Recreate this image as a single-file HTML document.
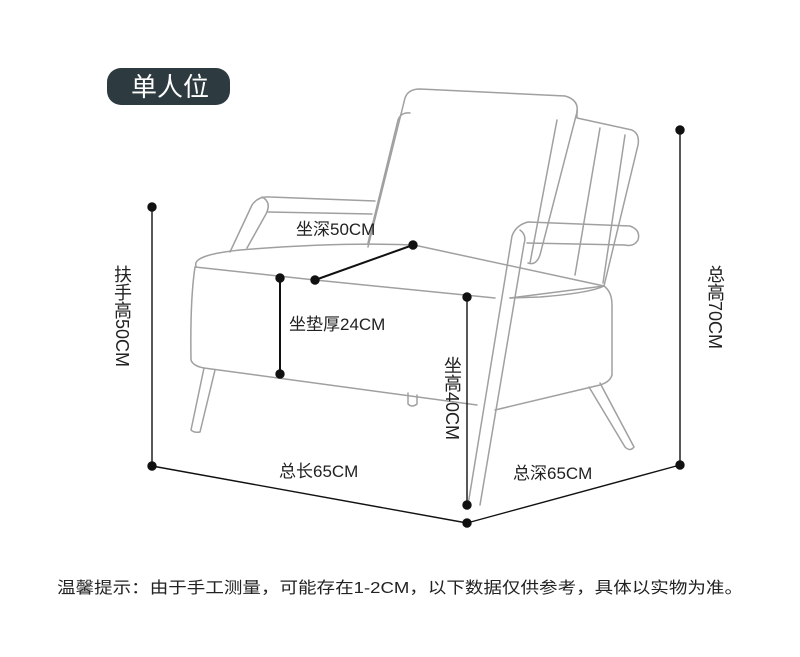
<!DOCTYPE html>
<html><head><meta charset="utf-8"><style>
html,body{margin:0;padding:0;background:#fff;width:800px;height:657px;overflow:hidden;position:relative}
.t{position:absolute;font-family:"Liberation Sans","Noto Sans CJK SC",sans-serif;color:#222;font-size:17px;line-height:1;white-space:nowrap}
.v{writing-mode:vertical-rl;text-orientation:mixed;font-size:18px}
</style></head><body>
<svg width="800" height="657" style="position:absolute;left:0;top:0">
<g fill="none" stroke="#a0a0a0" stroke-width="1.5" stroke-linejoin="round" stroke-linecap="round">
<!-- back frame behind -->
<path d="M368,243 L398,120 Q401,112 410,113"/>
<path d="M577,110 L577,118 L632,130 Q640,134 638,145 L604,286"/>
<path d="M557,120 L530,263"/>
<path d="M600,128 L575,275"/>
<path d="M625,135 L603,283"/>
<!-- back cushion -->
<path d="M368,247 L405,98 Q408,89 420,89 L565,96 Q579,100 577,112 L540,255 Q536,266 528,263"/>
<!-- left arm -->
<path d="M230,252 L252,205 Q258,196 270,197 L375,201"/>
<path d="M262,197 Q272,202 266,214 L247,248"/>
<path d="M268,212 L372,214"/>
<!-- seat top -->
<path d="M196,266 Q192,255 240,250 Q340,242 414,245 L604,286 Q590,293 540,297 L510,298"/>
<path d="M195,267 L315,280 L495,298"/>
<!-- seat front box -->
<path d="M195,267 Q190,300 191,360 Q193,366 204,368 L477,405"/>
<path d="M510,298 L604,286 Q612,292 612,305 L612,375 Q610,382 600,385 L495,410"/>
<path d="M408,393 L408,404 Q412,408 417,404 L417,395"/>
<!-- legs -->
<path d="M204,368 L191,430 Q194,433 200,432 L215,370"/>
<path d="M589,387 L625,447 Q630,452 634,447 L600,383"/>
<!-- right arm -->
<path d="M468,505 L512,236 Q516,225 528,222 L630,226 Q641,230 638,240 Q634,247 625,245 L527,243"/>
<path d="M480,505 L524,244 Q527,235 520,230"/>
</g>
<g stroke="#111" stroke-width="1.4" fill="#111">
<line x1="152" y1="207" x2="152" y2="466"/>
<line x1="152" y1="466" x2="467" y2="523"/>
<line x1="467" y1="523" x2="680" y2="465"/>
<line x1="680" y1="130" x2="680" y2="465"/>
<line x1="315" y1="280" x2="413" y2="245" stroke-width="2"/>
<line x1="280" y1="278" x2="280" y2="374" stroke-width="2"/>
<line x1="467" y1="297" x2="467" y2="505"/>
<circle cx="152" cy="207" r="4"/><circle cx="152" cy="466" r="4"/>
<circle cx="467" cy="523" r="4"/><circle cx="680" cy="130" r="4"/><circle cx="680" cy="465" r="4"/>
<circle cx="315" cy="280" r="4"/><circle cx="413" cy="245" r="4"/>
<circle cx="280" cy="278" r="4"/><circle cx="280" cy="374" r="4"/>
<circle cx="467" cy="297" r="4"/><circle cx="467" cy="505" r="4"/>
</g>
<rect x="107" y="68" width="123" height="37" rx="14" fill="#2d3b41"/>
<text x="170" y="96" text-anchor="middle" font-family="Liberation Sans,Noto Sans CJK SC,sans-serif" font-size="26" fill="#fff">单人位</text>
<text x="400" y="593" text-anchor="middle" font-family="Liberation Sans,Noto Sans CJK SC,sans-serif" font-size="16" fill="#222" textLength="686" lengthAdjust="spacingAndGlyphs">温馨提示：由于手工测量，可能存在1-2CM，以下数据仅供参考，具体以实物为准。</text>
</svg>
<div class="t" style="left:296px;top:221px">坐深50CM</div>
<div class="t" style="left:289px;top:316px">坐垫厚24CM</div>
<div class="t" style="left:279px;top:463px">总长65CM</div>
<div class="t" style="left:513px;top:465px">总深65CM</div>
<div class="t v" style="left:113px;top:265px">扶手高50CM</div>
<div class="t v" style="left:443px;top:356px">坐高40CM</div>
<div class="t v" style="left:706px;top:265px">总高70CM</div>
</body></html>
